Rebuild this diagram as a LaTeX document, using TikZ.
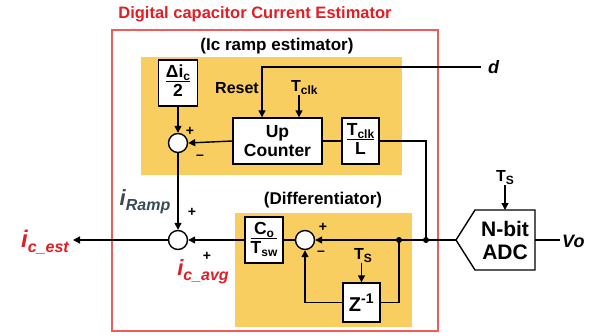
\documentclass[tikz,border=0pt]{standalone}
\usepackage{fontspec}
\setmainfont{Liberation Sans}
\usetikzlibrary{arrows.meta}
\definecolor{ybox}{RGB}{249,206,96}
\definecolor{rtext}{RGB}{228,28,36}
\definecolor{rline}{RGB}{240,90,90}
\definecolor{slate}{RGB}{55,75,88}
\newcommand{\myfrac}[2]{\begin{tabular}{@{}c@{}}#1\\[-2pt]\hline\noalign{\vskip2pt}#2\end{tabular}}
\newcommand{\sub}[1]{\raisebox{-0.35ex}{\fontsize{12}{13}\selectfont #1}}
\begin{document}
\begin{tikzpicture}[x=1pt,y=-1pt,
  blk/.style={draw, line width=1.4pt, fill=white, font=\bfseries\fontsize{17.5}{19}\selectfont, inner sep=1pt, align=center},
  sumc/.style={draw, circle, line width=1.4pt, fill=white, minimum size=19pt, inner sep=0pt},
  arr/.style={line width=1.4pt, -{Triangle[length=7pt,width=7pt]}},
  ln/.style={line width=1.4pt},
  lbl/.style={font=\bfseries\fontsize{16}{18}\selectfont, inner sep=0pt},
  sgn/.style={font=\bfseries\fontsize{14}{15}\selectfont, inner sep=0pt},
  dot/.style={circle, fill=black, minimum size=6pt, inner sep=0pt}]
\useasboundingbox (0,0) rectangle (602,335);
% backgrounds
\fill[ybox] (141,57) rectangle (402,175);
\fill[ybox] (235,213) rectangle (412,327);
\draw[rline, line width=1.2pt] (112,30) rectangle (438,331);
% titles
\node[font=\bfseries\fontsize{16.5}{18}\selectfont, text=rtext, inner sep=0pt] (title) at (255,14) {Digital capacitor Current Estimator};
\node[font=\bfseries\fontsize{17}{19}\selectfont, inner sep=0pt] (t1) at (277,46) {(Ic ramp estimator)};
\node[font=\bfseries\fontsize{17}{19}\selectfont, inner sep=0pt] (t2) at (323,200) {(Differentiator)};
% blocks
\node[blk, minimum width=39pt, minimum height=46pt] (dk) at (178,83) {\myfrac{Δi\sub{c}}{2}};
\node[blk, minimum width=89pt, minimum height=46pt] (uc) at (277.5,141) {Up\\Counter};
\node[blk, minimum width=37pt, minimum height=46pt] (tl) at (360.5,141) {\myfrac{T\sub{clk}}{L}};
\node[blk, minimum width=38pt, minimum height=46pt] (cs) at (264,240) {\myfrac{C\sub{o}}{T\sub{sw}}};
\node[blk, minimum width=37pt, minimum height=39pt, font=\bfseries\fontsize{20}{22}\selectfont] (z) at (361.5,302.5) {Z\textsuperscript{-1}};
% sums
\node[sumc] (s1) at (178,143) {};
\node[sumc] (s2) at (178,240) {};
\node[sumc] (s3) at (305,240) {};
% ADC
\draw[ln] (456,240) -- (475,210) -- (535,210) -- (535,270) -- (475,270) -- cycle;
\node[font=\bfseries\fontsize{21}{23}\selectfont, align=center, inner sep=0pt] (adc) at (505,240) {N-bit\\ADC};
\coordinate (adcp) at (456,240);
\coordinate (adcr) at (535,240);
\coordinate (adct) at (505,210);
% junctions
\node[dot] (j1) at (426,240) {};
\node[dot] (j2) at (399,240) {};
% inputs / outputs
\node[font=\bfseries\itshape\fontsize{18}{20}\selectfont, inner sep=1pt, anchor=west] (d) at (487,67) {d};
\node[font=\bfseries\itshape\fontsize{18}{20}\selectfont, inner sep=1pt, anchor=west] (vo) at (561,241) {Vo};
\coordinate (dend) at (481,67);
\coordinate (voend) at (560,240);
\node[font=\bfseries\itshape\fontsize{24}{26}\selectfont, text=rtext, inner sep=0pt, anchor=east] (est) at (69,242) {i\raisebox{-0.4ex}{\fontsize{16}{18}\selectfont c\_est}};
\coordinate (estend) at (73,240);
% labels
\node[lbl] (reset) at (237,88) {Reset};
\node[lbl, anchor=west] (tclk) at (291,88) {T\sub{clk}};
\node[lbl, anchor=west] (tsz) at (354,256) {T\sub{S}};
\node[lbl, anchor=west] (tsa) at (496,178) {T\sub{S}};
\node[font=\bfseries\itshape\fontsize{22}{24}\selectfont, text=slate, inner sep=0pt] (iramp) at (145,202) {i\raisebox{-0.4ex}{\fontsize{16}{18}\selectfont Ramp}};
\node[font=\bfseries\itshape\fontsize{22}{24}\selectfont, text=rtext, inner sep=0pt] (iavg) at (203,272) {i\raisebox{-0.4ex}{\fontsize{16}{18}\selectfont c\_avg}};
% signs
\node[sgn] at (190,131) {+};
\node[sgn] at (200,157) {--};
\node[sgn] at (192,212) {+};
\node[sgn] at (207,256) {+};
\node[sgn] at (323,227) {+};
\node[sgn] at (321,253) {--};
% connectors
\coordinate (rst) at ([xshift=-15.5pt]uc.north);
\coordinate (tca) at ([xshift=21.5pt]uc.north);
\draw[arr] (dend) -| (rst);
\draw[arr] (tca |- tclk.south) -- (tca);
\draw[arr] (dk.south) -- (s1.north);
\draw[arr] (uc.west) -- (s1.east);
\draw[ln] (uc.east) -- (tl.west);
\draw[ln] (tl.east) -| (j1.center);
\draw[arr] (s1.south) -- (s2.north);
\draw[arr] (s2.west) -- (estend);
\draw[arr] (cs.west) -- (s2.east);
\draw[ln] (s3.west) -- (cs.east);
\draw[arr] (adcp) -- (s3.east);
\draw[ln] (j2.center) |- (z.east);
\draw[arr] (z.west) -| (s3.south);
\draw[arr] (tsz.south -| z.north) -- (z.north);
\draw[arr] (tsa.south -| adct) -- (adct);
\draw[ln] (adcr) -- (voend);
\end{tikzpicture}
\end{document}
